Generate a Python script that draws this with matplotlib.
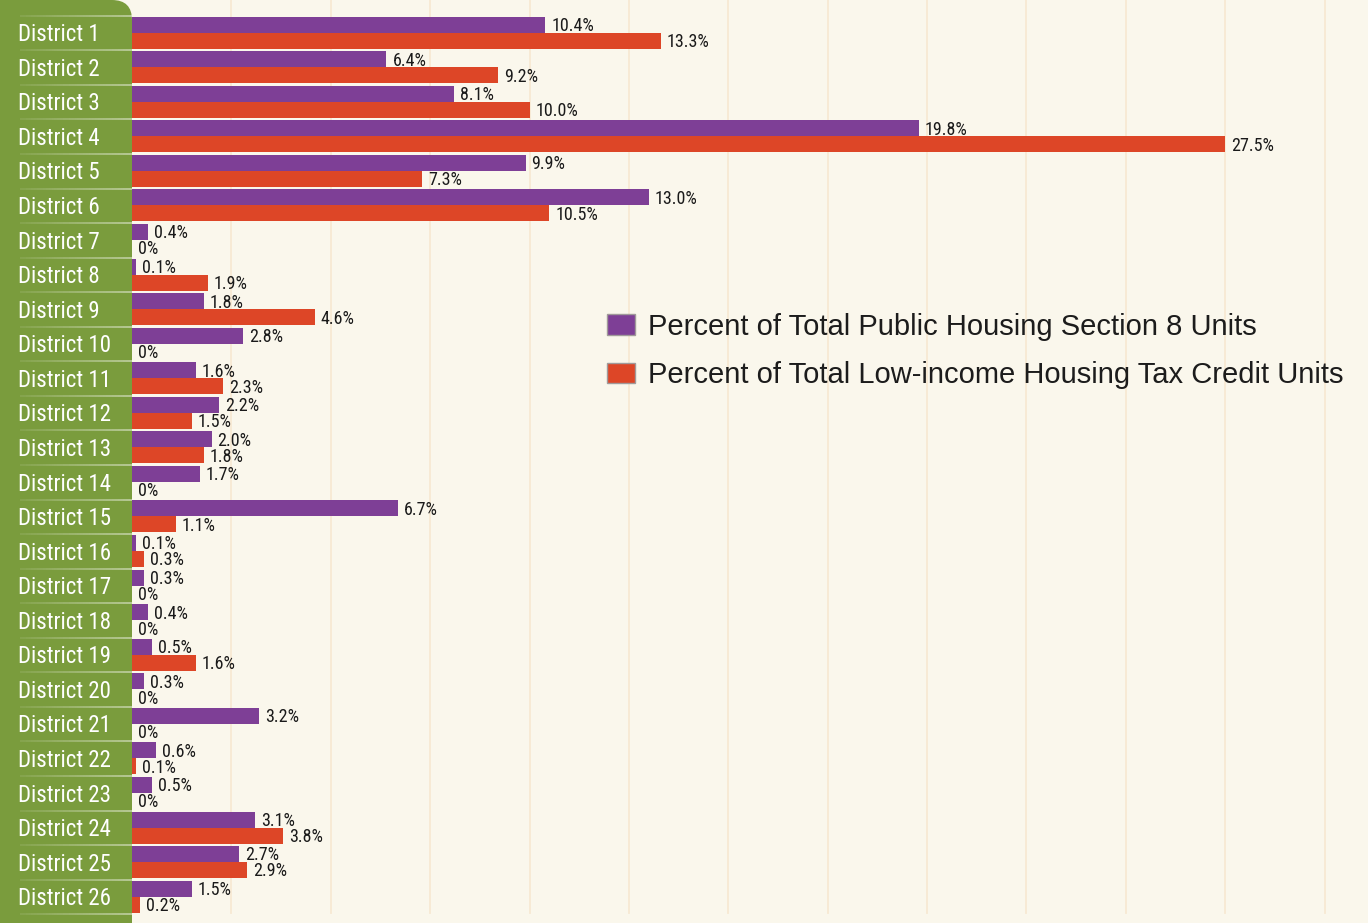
import matplotlib
matplotlib.use("Agg")
import matplotlib.pyplot as plt
from matplotlib import patches
import numpy as np

districts = ["District %d" % i for i in range(1, 27)]
public_housing = [10.4, 6.4, 8.1, 19.8, 9.9, 13.0, 0.4, 0.1, 1.8, 2.8, 1.6, 2.2, 2.0,
                  1.7, 6.7, 0.1, 0.3, 0.4, 0.5, 0.3, 3.2, 0.6, 0.5, 3.1, 2.7, 1.5]
tax_credit = [13.3, 9.2, 10.0, 27.5, 7.3, 10.5, 0, 1.9, 4.6, 0, 2.3, 1.5, 1.8,
              0, 1.1, 0.3, 0, 0, 1.6, 0, 0, 0.1, 0, 3.8, 2.9, 0.2]
series_names = ["Percent of Total Public Housing Section 8 Units",
                "Percent of Total Low-income Housing Tax Credit Units"]

purple = "#7e3f96"
orange = "#dd4627"
green = "#7a9c3d"
cream = "#faf7ec"
grid_c = "#f7e9d3"

narrow = ["Roboto Condensed", "DejaVu Sans"]

W, H, dpi = 13.68, 9.23, 100
fig = plt.figure(figsize=(W, H), dpi=dpi, facecolor=cream)
ax = fig.add_axes([0, 0, 1, 1])
ax.set_facecolor("none")

px_per_pct = 39.75
left_px = 132
x_min = -left_px / px_per_pct
x_max = (W * dpi - left_px) / px_per_pct
row_px = 34.56
top_px = 33
y_top = -top_px / row_px
y_bot = y_top + H * dpi / row_px
ax.set_xlim(x_min, x_max)
ax.set_ylim(y_bot, y_top)
ax.axis("off")

# green side panel with rounded top-right corner
r = 0.2
panel = patches.FancyBboxPatch((-0.5, -0.5), 0.5 + left_px / dpi, H + 0.5,
                               boxstyle="round,pad=0,rounding_size=%f" % r,
                               transform=fig.dpi_scale_trans, facecolor=green,
                               edgecolor="none", clip_on=False, zorder=1)
ax.add_patch(panel)

y = np.arange(len(districts))
h = 16 / row_px

# gridlines
grid_bottom = 25 + (913 - 897) / row_px
for gx in np.arange(2.5, x_max, 2.5):
    ax.plot([gx, gx], [y_top, grid_bottom], color=grid_c, lw=1.3, zorder=0)

ax.barh(y - h / 2 - 0.01, public_housing, height=h, color=purple, zorder=2)
ax.barh(y + h / 2 - 0.01, tax_credit, height=h, color=orange, zorder=2)

def fmt(v):
    return "0%" if v == 0 else "%.1f%%" % v

off = 6 / px_per_pct
for i in range(len(districts)):
    ax.text(public_housing[i] + off, y[i] - h / 2 + 0.03, fmt(public_housing[i]),
            family=narrow, fontsize=13, color="#1a1a1a", va="center", ha="left", zorder=3)
    ax.text(tax_credit[i] + off, y[i] + h / 2 + 0.03, fmt(tax_credit[i]),
            family=narrow, fontsize=13, color="#1a1a1a", va="center", ha="left", zorder=3)
    ax.text(x_min + 18 / px_per_pct, y[i] + 0.05, districts[i], family=narrow, fontsize=16.5,
            color="white", va="center", ha="left", zorder=3)

# separator lines in the panel, fading in towards the right
xs = np.linspace(x_min + 20 / px_per_pct, 0, 40)
for b in np.arange(-0.5, 26, 1.0):
    for k in range(len(xs) - 1):
        a = 0.1 + 0.45 * k / len(xs)
        ax.plot(xs[k:k + 2], [b, b], color="white", alpha=a, lw=1.2,
                solid_capstyle="butt", zorder=2)

handles = [patches.Patch(facecolor=purple, edgecolor="#a09a9a", lw=1, joinstyle="round"),
           patches.Patch(facecolor=orange, edgecolor="#a09a9a", lw=1, joinstyle="round")]
leg = ax.legend(handles, series_names, loc="upper left",
                bbox_to_anchor=(607 / (W * dpi), 1 - 313 / (H * dpi)),
                frameon=False, prop={"family": "Liberation Sans", "size": 21},
                handlelength=0.96, handleheight=0.72, handletextpad=0.45,
                labelspacing=0.69, borderpad=0, borderaxespad=0)
for t in leg.get_texts():
    t.set_color("#1c1c1c")

fig.savefig("out.png", dpi=dpi, facecolor=cream)
